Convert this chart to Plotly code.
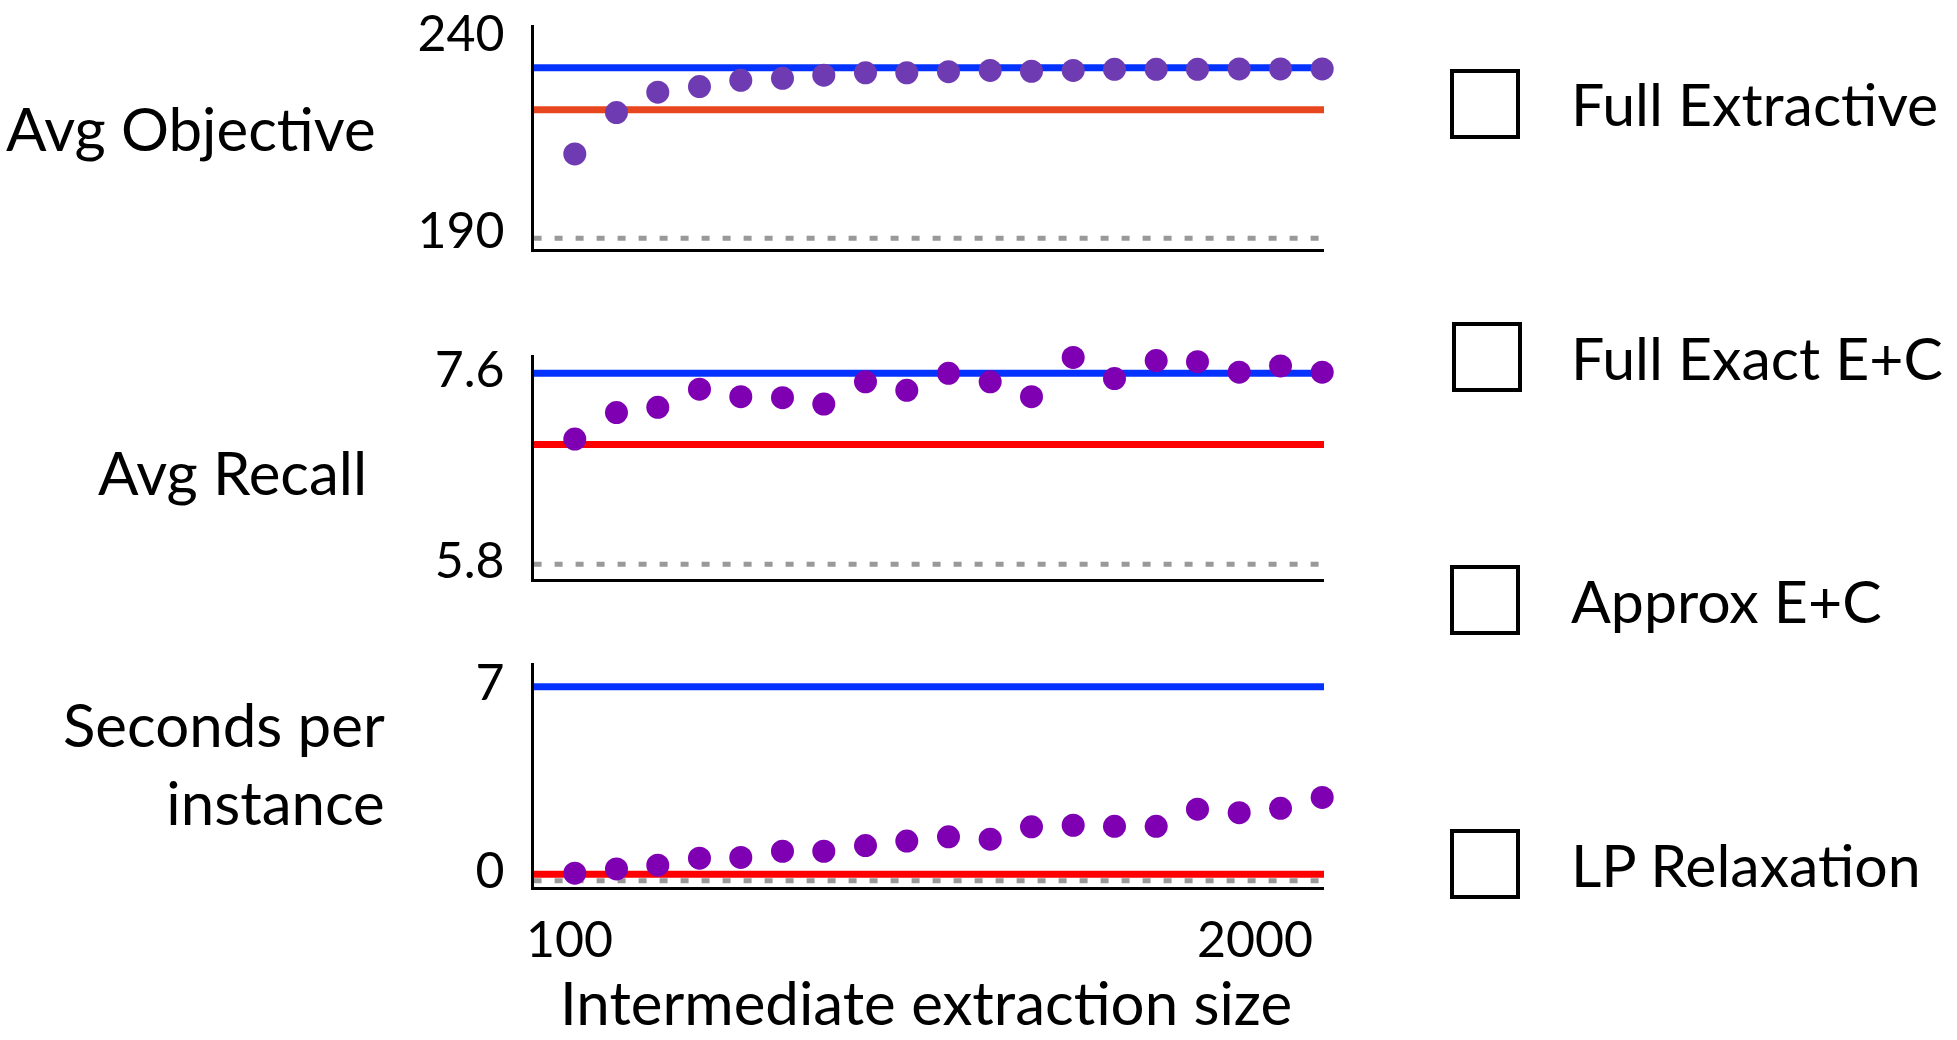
"""
Approx E+C vs. full solvers: objective, recall and runtime as the
intermediate extraction size grows. Three stacked panels, hand-drawn legend.
"""

import plotly.graph_objects as go
from plotly.subplots import make_subplots

W, H = 1957, 1040
FONT = "Lato, 'Open Sans', sans-serif"

# ---- data -------------------------------------------------------------
sizes = [100, 206, 311, 417, 522, 628, 733, 839, 944, 1050,
         1156, 1261, 1367, 1472, 1578, 1683, 1789, 1894, 2000]

series_names = ["Full Extractive", "Full Exact E+C", "Approx E+C", "LP Relaxation"]

# Avg Objective
obj_approx = [211.4, 221.9, 227.1, 228.5, 230.1, 230.6, 231.4, 232.0, 232.0, 232.3,
              232.6, 232.4, 232.6, 232.9, 232.9, 232.9, 233.0, 233.0, 233.0]
obj_full_exact = 233.3
obj_full_extractive = 222.6
obj_lp = 190.0

# Avg Recall
recall_approx = [6.98, 7.23, 7.28, 7.45, 7.38, 7.37, 7.31, 7.52, 7.44, 7.60,
                 7.52, 7.38, 7.75, 7.55, 7.72, 7.71, 7.61, 7.67, 7.61]
recall_full_exact = 7.6
recall_full_extractive = 6.93
recall_lp = 5.8

# Seconds per instance
secs_approx = [0.04, 0.20, 0.34, 0.60, 0.63, 0.86, 0.86, 1.07, 1.24, 1.40,
               1.31, 1.77, 1.83, 1.79, 1.79, 2.43, 2.30, 2.46, 2.87]
secs_full_exact = 7.0
secs_full_extractive = 0.0
secs_lp = -0.24

y_ticks = [[190, 240], [5.8, 7.6], [0, 7]]
y_ticktext = [["190", "240"], ["5.8", "7.6"], ["0", "7"]]
x_ticks = [100, 2000]


def px_x(p):
    return p / W


def px_y(p):
    return 1 - p / H


BLUE = "#0433FF"
GRAY = "#999999"

panels = [
    dict(approx=obj_approx, exact=obj_full_exact, extractive=obj_full_extractive, lp=obj_lp,
         yrange=[187.21, 244.14], top=25, bottom=249.3, shift=-8,
         red="#E8461E", purple="#6F3BB2"),
    dict(approx=recall_approx, exact=recall_full_exact, extractive=recall_full_extractive, lp=recall_lp,
         yrange=[5.6585, 7.7725], top=355, bottom=579.3, shift=-4,
         red="#FF0000", purple="#7F00B3"),
    dict(approx=secs_approx, exact=secs_full_exact, extractive=secs_full_extractive, lp=secs_lp,
         yrange=[-0.463, 7.896], top=662.7, bottom=886.7, shift=-4,
         red="#FF0000", purple="#7F00B3"),
]

fig = make_subplots(rows=3, cols=1)

x_dom = [px_x(533.6), px_x(1324)]
for i, p in enumerate(panels, start=1):
    fig.add_trace(go.Scatter(
        x=sizes, y=p["approx"], mode="markers", name=series_names[2],
        marker=dict(size=23, color=p["purple"]), cliponaxis=False, showlegend=False,
    ), row=i, col=1)

    fig.add_hline(y=p["lp"], row=i, col=1, layer="below",
                  line=dict(color=GRAY, width=5, dash="8px,13px"))
    fig.add_hline(y=p["extractive"], row=i, col=1, layer="below",
                  line=dict(color=p["red"], width=7))
    fig.add_hline(y=p["exact"], row=i, col=1, layer="below",
                  line=dict(color=BLUE, width=7))

    ax = "" if i == 1 else str(i)
    fig.layout["xaxis" + ax].update(
        domain=x_dom, range=[-4.7, 2004.6], showgrid=False, zeroline=False,
        showline=True, linecolor="black", linewidth=3, ticks="",
        showticklabels=False,
    )
    fig.layout["yaxis" + ax].update(
        domain=[px_y(p["bottom"]), px_y(p["top"])], range=p["yrange"],
        showgrid=False, zeroline=False, showline=True, linecolor="black", linewidth=3,
        ticks="", tickvals=y_ticks[i - 1], ticktext=y_ticktext[i - 1],
        tickfont=dict(size=50, color="black", family=FONT),
        ticklabelstandoff=16, ticklabelshift=p["shift"], automargin=False,
    )

annotations = []
# x tick labels: "100" under the first point, "2000" right-aligned on the last
annotations.append(dict(text=str(x_ticks[0]), x=x_ticks[0], xref="x3", xanchor="center", xshift=-5,
                        y=px_y(938), yref="paper", yanchor="middle", showarrow=False,
                        font=dict(size=50)))
annotations.append(dict(text=str(x_ticks[1]), x=x_ticks[1], xref="x3", xanchor="right", xshift=-7,
                        y=px_y(938), yref="paper", yanchor="middle", showarrow=False,
                        font=dict(size=50)))
annotations.append(dict(text="Intermediate extraction size", x=px_x(926), y=0,
                        xref="paper", yref="paper", xanchor="center", yanchor="bottom",
                        showarrow=False, font=dict(size=60)))

# panel labels on the left
for text, xr, yc in [("Avg Objective", 378, 128), ("Avg Recall", 369, 472),
                     ("Seconds per<br>instance", 387, 763)]:
    annotations.append(dict(text=text, x=px_x(xr), y=px_y(yc), xref="paper", yref="paper",
                            xanchor="right", yanchor="middle", align="right",
                            showarrow=False, font=dict(size=60)))

# legend: empty boxes + labels
shapes = []
for name, yc, dx in zip(series_names, [104, 357, 600, 864], [0, 2, 0, 0]):
    shapes.append(dict(type="rect", xref="paper", yref="paper",
                       x0=px_x(1452 + dx), x1=px_x(1518 + dx),
                       y0=px_y(yc + 33), y1=px_y(yc - 33),
                       line=dict(color="black", width=4), fillcolor="rgba(0,0,0,0)"))
    annotations.append(dict(text=name, x=px_x(1569), y=px_y(yc), xref="paper", yref="paper",
                            xanchor="left", yanchor="middle", showarrow=False,
                            font=dict(size=59)))

fig.update_layout(
    width=W, height=H,
    margin=dict(l=0, r=0, t=0, b=0),
    paper_bgcolor="white", plot_bgcolor="white",
    font=dict(family=FONT, color="black"),
    showlegend=False,
    annotations=list(fig.layout.annotations) + annotations,
    shapes=list(fig.layout.shapes) + shapes,
)

fig.write_html(
    "out.html",
    config={"displayModeBar": False},
    post_script="document.body.style.margin='0';document.body.style.overflow='hidden';",
)
